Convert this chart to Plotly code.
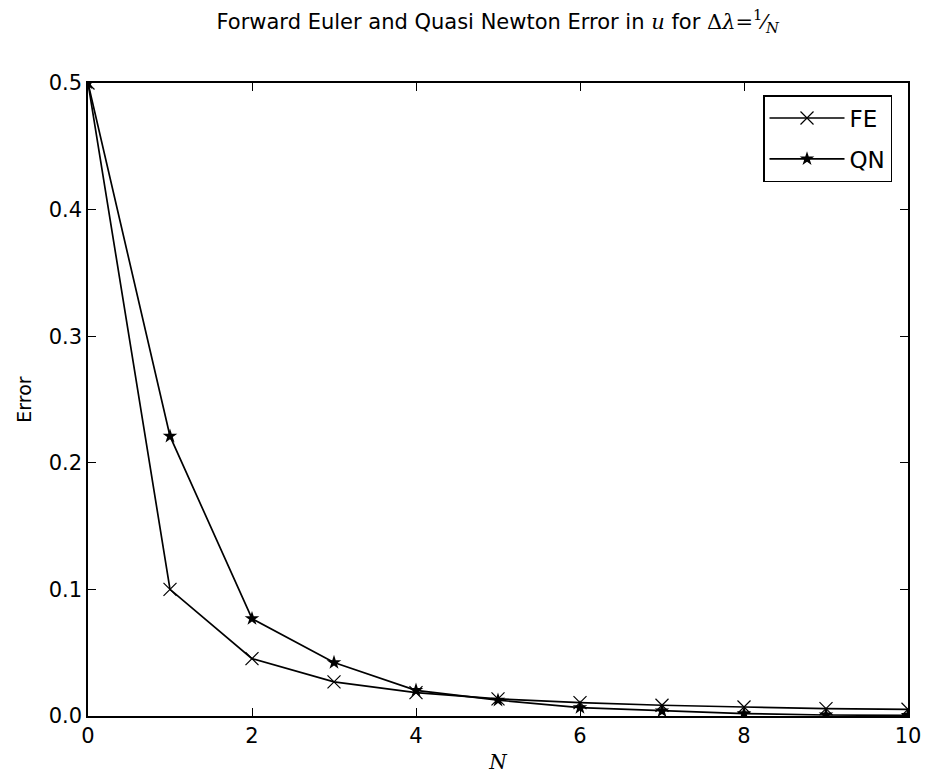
import plotly.graph_objects as go

N = [0, 1, 2, 3, 4, 5, 6, 7, 8, 9, 10]
fe_err = [0.5, 0.100, 0.0453, 0.0269, 0.0185, 0.0135, 0.0106, 0.0085, 0.0071, 0.0058, 0.0053]
qn_err = [0.5, 0.221, 0.0769, 0.0422, 0.0203, 0.0125, 0.0066, 0.0040, 0.0019, 0.0008, 0.0005]
x_ticks = [0, 2, 4, 6, 8, 10]
y_ticks = [0.0, 0.1, 0.2, 0.3, 0.4, 0.5]

FONT = "DejaVu Sans"
SERIF = "DejaVu Serif"

fig = go.Figure()
fig.add_trace(go.Scatter(
    x=N, y=fe_err, mode="lines+markers", name="FE", legendgroup="fe",
    line=dict(color="black", width=1.7),
    marker=dict(symbol="x-thin", size=13, line=dict(color="black", width=1.2), color="black"),
))
fig.add_trace(go.Scatter(
    x=N, y=qn_err, mode="lines+markers", name="QN", legendgroup="qn",
    line=dict(color="black", width=1.7),
    marker=dict(symbol="star", size=11, color="black", line=dict(width=0)),
))

title = ("Forward Euler and Quasi Newton Error in "
         f"<span style=\"font-family:'{SERIF}'\"><i>u</i></span> for "
         f"<span style=\"font-family:'{SERIF}'\">Δ<i>λ</i>=<sup>1</sup>⁄<sub><i>N</i></sub></span>")

axis_common = dict(
    showgrid=False, zeroline=False, showline=True, linecolor="black", linewidth=1.5,
    mirror="ticks", ticks="inside", ticklen=8, tickwidth=1.2, tickcolor="black",
    tickfont=dict(family=FONT, size=21, color="black"), automargin=False,
)

fig.update_layout(
    width=925, height=776,
    margin=dict(l=88, r=17, t=83, b=60),
    paper_bgcolor="white", plot_bgcolor="white",
    title=dict(text=title, x=0.538, xanchor="center", y=0.972, yanchor="middle",
               font=dict(family=FONT, size=21, color="black")),
    xaxis=dict(range=[0, 10], tickvals=x_ticks, ticktext=[str(v) for v in x_ticks],
               title=dict(text="<i>N</i>", font=dict(family=SERIF, size=20, color="black"), standoff=8),
               **axis_common),
    yaxis=dict(range=[0, 0.5], tickvals=y_ticks, ticktext=[f"{v:.1f}" for v in y_ticks],
               title=dict(text="Error", font=dict(family=FONT, size=19, color="black"), standoff=12),
               **axis_common),
    legend=dict(x=0.9805, y=0.981, xanchor="right", yanchor="top",
                bordercolor="black", borderwidth=1.5, bgcolor="white",
                font=dict(family=FONT, size=23, color="black"),
                itemwidth=75, tracegroupgap=8),
    showlegend=True,
)

fig.write_html("out.html")
